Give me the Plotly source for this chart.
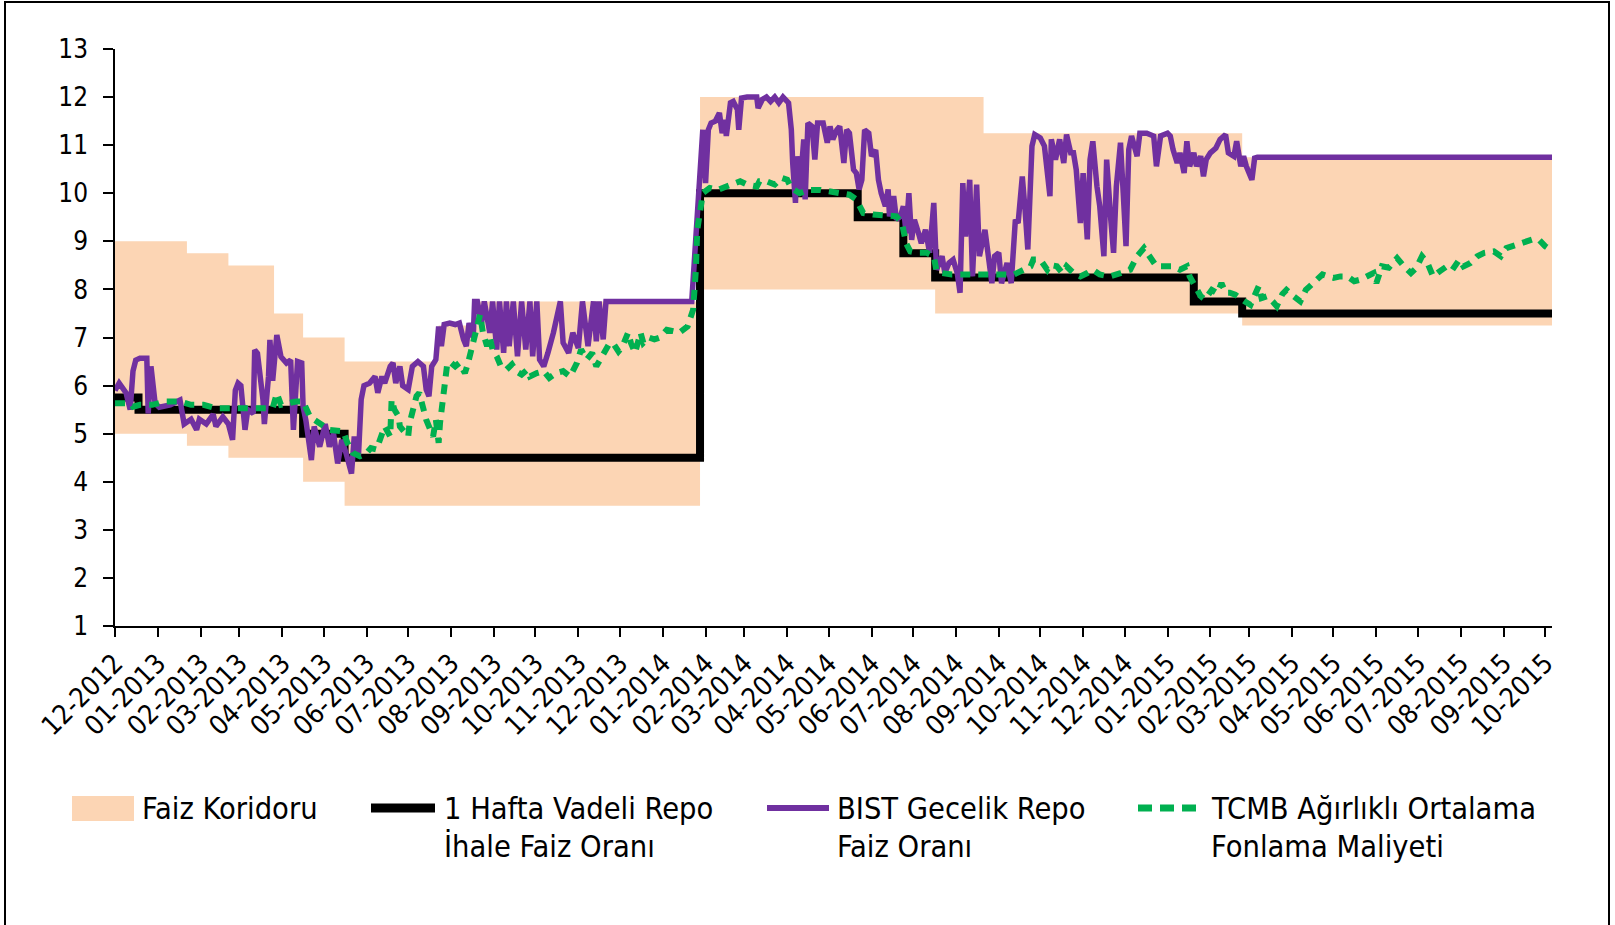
import plotly.graph_objects as go

# ---------------- data ----------------
corr_dates = ['2012-12-01', '2013-01-22', '2013-02-21', '2013-03-26', '2013-04-16', '2013-05-16',
              '2013-07-23', '2013-08-20', '2014-01-28', '2014-07-17', '2014-08-21', '2015-02-24',
              '2015-10-06']
corr_upper = [9.0, 8.75, 8.5, 7.5, 7.0, 6.5, 7.25, 7.75, 12.0, 12.0, 11.25, 10.75, 10.75]
corr_lower = [5.0, 4.75, 4.5, 4.5, 4.0, 3.5, 3.5, 3.5, 8.0, 7.5, 7.5, 7.25, 7.25]

repo_dates = ['2012-12-01', '2012-12-18', '2013-04-16', '2013-05-16', '2014-01-28', '2014-05-22',
              '2014-06-24', '2014-07-17', '2015-01-20', '2015-02-24', '2015-10-06']
repo_rate = [5.75, 5.5, 5.0, 4.5, 10.0, 9.5, 8.75, 8.25, 7.75, 7.5, 7.5]

bist_dates = [
    '2012-12-01', '2012-12-04', '2012-12-09', '2012-12-12', '2012-12-14', '2012-12-16', '2012-12-19',
    '2012-12-24', '2012-12-25', '2012-12-27', '2012-12-30', '2013-01-02', '2013-01-10', '2013-01-17',
    '2013-01-20', '2013-01-25', '2013-01-29', '2013-01-31', '2013-02-05', '2013-02-10', '2013-02-12',
    '2013-02-17', '2013-02-21', '2013-02-24', '2013-02-26', '2013-02-28', '2013-03-02', '2013-03-05',
    '2013-03-07', '2013-03-11', '2013-03-12', '2013-03-14', '2013-03-18', '2013-03-19', '2013-03-22',
    '2013-03-23', '2013-03-25', '2013-03-28', '2013-03-31', '2013-04-04', '2013-04-07', '2013-04-09',
    '2013-04-12', '2013-04-15', '2013-04-16', '2013-04-18', '2013-04-22', '2013-04-24', '2013-04-28',
    '2013-05-02', '2013-05-05', '2013-05-08', '2013-05-11', '2013-05-14', '2013-05-17', '2013-05-21',
    '2013-05-23', '2013-05-26', '2013-05-28', '2013-05-30', '2013-06-03', '2013-06-07', '2013-06-09',
    '2013-06-12', '2013-06-14', '2013-06-18', '2013-06-20', '2013-06-22', '2013-06-25', '2013-06-27',
    '2013-07-01', '2013-07-04', '2013-07-08', '2013-07-12', '2013-07-14', '2013-07-16', '2013-07-18',
    '2013-07-21', '2013-07-23', '2013-07-25', '2013-07-27', '2013-07-31', '2013-08-04', '2013-08-07',
    '2013-08-10', '2013-08-12', '2013-08-14', '2013-08-17', '2013-08-18', '2013-08-20', '2013-08-23',
    '2013-08-25', '2013-08-29', '2013-08-31', '2013-09-03', '2013-09-05', '2013-09-08', '2013-09-10',
    '2013-09-12', '2013-09-15', '2013-09-18', '2013-09-21', '2013-09-24', '2013-09-27', '2013-09-29',
    '2013-10-02', '2013-10-04', '2013-10-07', '2013-10-10', '2013-10-14', '2013-10-19', '2013-10-21',
    '2013-10-25', '2013-10-28', '2013-11-01', '2013-11-04', '2013-11-08', '2013-11-12', '2013-11-14',
    '2013-11-16', '2013-11-19', '2013-11-21', '2014-01-22', '2014-01-23', '2014-01-25', '2014-01-28',
    '2014-01-30', '2014-02-01', '2014-02-03', '2014-02-05', '2014-02-08', '2014-02-11', '2014-02-13',
    '2014-02-15', '2014-02-16', '2014-02-19', '2014-02-21', '2014-02-24', '2014-02-25', '2014-02-27',
    '2014-03-03', '2014-03-10', '2014-03-11', '2014-03-14', '2014-03-17', '2014-03-20', '2014-03-23',
    '2014-03-26', '2014-03-29', '2014-04-02', '2014-04-04', '2014-04-05', '2014-04-07', '2014-04-08',
    '2014-04-10', '2014-04-13', '2014-04-14', '2014-04-16', '2014-04-19', '2014-04-21', '2014-04-23',
    '2014-04-27', '2014-04-30', '2014-05-02', '2014-05-04', '2014-05-07', '2014-05-09', '2014-05-12',
    '2014-05-14', '2014-05-16', '2014-05-19', '2014-05-21', '2014-05-23', '2014-05-25', '2014-05-27',
    '2014-05-30', '2014-06-01', '2014-06-04', '2014-06-06', '2014-06-08', '2014-06-11', '2014-06-13',
    '2014-06-14', '2014-06-17', '2014-06-19', '2014-06-22', '2014-06-24', '2014-06-26', '2014-06-28',
    '2014-06-30', '2014-07-02', '2014-07-05', '2014-07-07', '2014-07-10', '2014-07-13', '2014-07-16',
    '2014-07-18', '2014-07-22', '2014-07-24', '2014-07-27', '2014-07-30', '2014-08-02', '2014-08-04',
    '2014-08-06', '2014-08-08', '2014-08-11', '2014-08-13', '2014-08-16', '2014-08-18', '2014-08-22',
    '2014-08-24', '2014-08-27', '2014-08-29', '2014-09-01', '2014-09-03', '2014-09-07', '2014-09-10',
    '2014-09-13', '2014-09-15', '2014-09-18', '2014-09-20', '2014-09-22', '2014-09-25', '2014-09-27',
    '2014-10-01', '2014-10-04', '2014-10-08', '2014-10-09', '2014-10-12', '2014-10-15', '2014-10-18',
    '2014-10-20', '2014-10-23', '2014-10-25', '2014-10-27', '2014-10-30', '2014-11-01', '2014-11-04',
    '2014-11-06', '2014-11-08', '2014-11-11', '2014-11-13', '2014-11-16', '2014-11-18', '2014-11-21',
    '2014-11-23', '2014-11-25', '2014-11-28', '2014-11-30', '2014-12-02', '2014-12-04', '2014-12-06',
    '2014-12-10', '2014-12-12', '2014-12-17', '2014-12-22', '2014-12-24', '2014-12-27', '2015-01-01',
    '2015-01-03', '2015-01-05', '2015-01-08', '2015-01-10', '2015-01-13', '2015-01-15', '2015-01-17',
    '2015-01-20', '2015-01-22', '2015-01-25', '2015-01-27', '2015-01-29', '2015-02-01', '2015-02-05',
    '2015-02-08', '2015-02-12', '2015-02-14', '2015-02-18', '2015-02-20', '2015-02-23', '2015-02-25',
    '2015-02-27', '2015-03-03', '2015-03-05', '2015-03-07', '2015-10-06']
bist_rate = [
    5.9, 6.05, 5.85, 5.5, 6.3, 6.53, 6.57,
    6.57, 5.42, 6.4, 5.63, 5.55, 5.6, 5.7,
    5.2, 5.3, 5.08, 5.3, 5.2, 5.4, 5.15,
    5.35, 5.2, 4.87, 5.9, 6.05, 6.0, 5.08,
    5.5, 5.42, 6.74, 6.67, 5.7, 5.2, 6.19,
    6.95, 6.1, 7.05, 6.6, 6.47, 6.53, 5.08,
    6.5, 6.47, 5.56, 5.28, 4.45, 5.15, 4.73,
    5.2, 4.73, 5.0, 4.38, 4.87, 4.6, 4.17,
    4.94, 4.53, 5.71, 6.0, 6.05, 6.19, 5.85,
    6.19, 6.05, 6.4, 6.47, 6.05, 6.4, 6.0,
    5.92, 6.4, 6.5, 6.4, 5.92, 5.78, 6.4,
    6.54, 7.23, 6.82, 7.27, 7.3, 7.27, 7.3,
    6.96, 6.82, 7.3, 7.0, 7.75, 7.75, 7.3,
    7.75, 7.1, 7.75, 6.75, 7.75, 6.68, 7.75,
    6.82, 7.75, 6.61, 7.75, 6.75, 7.75, 6.61,
    7.75, 6.54, 6.4, 6.68, 7.1, 7.75, 6.89,
    6.68, 7.1, 6.78, 7.75, 6.82, 7.75, 6.92,
    7.75, 6.96, 7.75, 7.75, 8.2, 9.45, 10.63,
    11.32, 10.21, 11.32, 11.46, 11.5, 11.67, 11.25,
    11.53, 11.19, 11.88, 11.91, 11.74, 11.32, 11.98,
    12.0, 12.0, 11.77, 11.95, 12.0, 11.91, 12.0,
    11.88, 12.0, 11.88, 11.32, 10.63, 9.8, 10.77,
    10.0, 11.12, 9.87, 11.46, 11.39, 10.7, 11.46,
    11.46, 11.05, 11.39, 11.12, 11.32, 11.39, 10.63,
    11.32, 11.25, 10.49, 10.42, 10.08, 10.28, 11.32,
    11.25, 10.77, 10.9, 10.28, 10.0, 9.73, 10.08,
    9.52, 9.94, 9.45, 9.52, 9.73, 9.17, 10.0,
    9.03, 9.45, 9.17, 8.96, 9.24, 8.76, 9.8,
    8.41, 8.69, 8.34, 8.55, 8.62, 8.34, 7.93,
    10.21, 9.1, 10.28, 8.27, 10.18, 8.69, 9.24,
    8.69, 8.13, 8.69, 8.76, 8.13, 8.55, 8.13,
    9.45, 9.38, 10.35, 9.66, 8.83, 10.98, 11.22,
    11.15, 10.98, 9.94, 11.12, 10.7, 11.12, 10.63,
    11.22, 10.84, 10.84, 10.49, 9.38, 10.42, 9.04,
    10.7, 11.08, 10.14, 9.73, 8.69, 10.7, 9.45,
    8.76, 10.14, 11.05, 10.0, 8.9, 10.91, 11.19,
    10.77, 11.25, 11.25, 11.19, 10.56, 11.19, 11.25,
    11.19, 10.91, 10.63, 10.84, 10.42, 11.08, 10.56,
    10.84, 10.56, 10.77, 10.35, 10.7, 10.84, 10.94,
    11.12, 11.22, 10.84, 10.77, 11.08, 10.56, 10.77,
    10.56, 10.28, 10.73, 10.75, 10.75]

tcmb_dates = [
    '2012-12-01', '2012-12-12', '2012-12-14', '2012-12-19', '2012-12-28', '2013-01-07', '2013-01-17',
    '2013-01-25', '2013-02-03', '2013-02-12', '2013-02-24', '2013-03-06', '2013-03-18', '2013-03-25',
    '2013-03-28', '2013-03-31', '2013-04-11', '2013-04-16', '2013-04-21', '2013-04-26', '2013-05-05',
    '2013-05-15', '2013-05-18', '2013-05-22', '2013-05-27', '2013-06-01', '2013-06-04', '2013-06-08',
    '2013-06-12', '2013-06-14', '2013-06-18', '2013-06-19', '2013-06-21', '2013-06-24', '2013-06-25',
    '2013-06-29', '2013-07-01', '2013-07-02', '2013-07-05', '2013-07-07', '2013-07-09', '2013-07-11',
    '2013-07-14', '2013-07-17', '2013-07-19', '2013-07-21', '2013-07-23', '2013-07-24', '2013-07-25',
    '2013-07-27', '2013-07-29', '2013-07-31', '2013-08-04', '2013-08-07', '2013-08-11', '2013-08-13',
    '2013-08-16', '2013-08-18', '2013-08-21', '2013-08-22', '2013-08-24', '2013-08-27', '2013-08-29',
    '2013-08-31', '2013-09-03', '2013-09-06', '2013-09-10', '2013-09-14', '2013-09-17', '2013-09-21',
    '2013-09-25', '2013-09-27', '2013-10-02', '2013-10-07', '2013-10-11', '2013-10-16', '2013-10-21',
    '2013-10-26', '2013-10-31', '2013-11-03', '2013-11-07', '2013-11-11', '2013-11-14', '2013-11-17',
    '2013-11-19', '2013-11-23', '2013-11-26', '2013-11-30', '2013-12-03', '2013-12-07', '2013-12-09',
    '2013-12-12', '2013-12-16', '2013-12-18', '2013-12-22', '2013-12-26', '2013-12-30', '2014-01-04',
    '2014-01-09', '2014-01-13', '2014-01-19', '2014-01-23', '2014-01-25', '2014-01-26', '2014-01-29',
    '2014-01-30', '2014-02-04', '2014-02-10', '2014-02-16', '2014-02-20', '2014-02-26', '2014-03-03',
    '2014-03-10', '2014-03-12', '2014-03-17', '2014-03-23', '2014-03-28', '2014-04-01', '2014-04-04',
    '2014-04-10', '2014-04-17', '2014-04-25', '2014-05-02', '2014-05-09', '2014-05-16', '2014-05-21',
    '2014-05-24', '2014-05-26', '2014-06-02', '2014-06-12', '2014-06-19', '2014-06-23', '2014-06-25',
    '2014-06-26', '2014-06-29', '2014-07-04', '2014-07-11', '2014-07-16', '2014-07-18', '2014-07-22',
    '2014-07-29', '2014-08-05', '2014-08-13', '2014-08-23', '2014-09-02', '2014-09-12', '2014-09-24',
    '2014-09-26', '2014-10-01', '2014-10-06', '2014-10-08', '2014-10-13', '2014-10-17', '2014-10-20',
    '2014-10-25', '2014-10-30', '2014-11-04', '2014-11-08', '2014-11-13', '2014-11-20', '2014-11-28',
    '2014-12-05', '2014-12-10', '2014-12-15', '2014-12-19', '2014-12-24', '2014-12-29', '2015-01-05',
    '2015-01-10', '2015-01-15', '2015-01-17', '2015-01-21', '2015-01-25', '2015-01-28', '2015-02-02',
    '2015-02-06', '2015-02-09', '2015-02-12', '2015-02-15', '2015-02-19', '2015-02-23', '2015-02-26',
    '2015-03-02', '2015-03-05', '2015-03-08', '2015-03-10', '2015-03-14', '2015-03-18', '2015-03-21',
    '2015-03-25', '2015-03-28', '2015-04-02', '2015-04-07', '2015-04-11', '2015-04-14', '2015-04-18',
    '2015-04-23', '2015-04-27', '2015-05-01', '2015-05-06', '2015-05-11', '2015-05-16', '2015-05-20',
    '2015-05-25', '2015-05-30', '2015-06-01', '2015-06-05', '2015-06-10', '2015-06-16', '2015-06-21',
    '2015-06-26', '2015-06-30', '2015-07-04', '2015-07-08', '2015-07-12', '2015-07-17', '2015-07-22',
    '2015-07-26', '2015-07-31', '2015-08-03', '2015-08-08', '2015-08-13', '2015-08-18', '2015-08-25',
    '2015-08-30', '2015-09-03', '2015-09-11', '2015-09-17', '2015-09-23', '2015-09-27', '2015-10-01',
    '2015-10-06']
tcmb_rate = [
    5.63, 5.63, 5.56, 5.6, 5.6, 5.67, 5.67,
    5.6, 5.6, 5.53, 5.53, 5.53, 5.53, 5.53,
    5.84, 5.6, 5.67, 5.67, 5.35, 5.25, 5.08,
    5.05, 4.81, 4.6, 4.53, 4.6, 4.7, 4.67,
    5.01, 5.15, 4.94, 5.71, 5.5, 5.36, 5.15,
    5.01, 4.94, 5.22, 5.5, 5.78, 5.85, 5.57,
    5.29, 5.08, 4.94, 5.29, 4.81, 5.22, 5.5,
    5.98, 6.4, 6.5, 6.4, 6.47, 6.26, 6.44,
    6.75, 6.96, 7.3, 7.48, 7.1, 6.82, 7.0,
    6.75, 6.61, 6.4, 6.33, 6.44, 6.3, 6.23,
    6.33, 6.19, 6.26, 6.3, 6.16, 6.26, 6.3,
    6.19, 6.47, 6.75, 6.54, 6.68, 6.4, 6.54,
    6.68, 6.85, 6.89, 6.71, 6.82, 7.1, 6.89,
    6.68, 7.1, 6.89, 7.0, 6.96, 7.0, 7.16,
    7.13, 7.1, 7.23, 7.58, 8.41, 9.24, 9.8,
    10.0, 10.11, 10.07, 10.14, 10.18, 10.25, 10.18,
    10.14, 10.25, 10.25, 10.18, 10.32, 10.28, 10.11,
    10.0, 10.07, 10.07, 10.04, 10.0, 9.97, 9.87,
    9.73, 9.59, 9.56, 9.52, 9.52, 9.38, 9.17,
    8.96, 8.79, 8.76, 8.76, 8.69, 8.38, 8.34,
    8.31, 8.31, 8.31, 8.31, 8.31, 8.31, 8.48,
    8.62, 8.62, 8.41, 8.51, 8.48, 8.34, 8.48,
    8.34, 8.27, 8.34, 8.41, 8.31, 8.27, 8.34,
    8.41, 8.69, 8.86, 8.69, 8.48, 8.48, 8.48,
    8.41, 8.48, 8.27, 8.07, 7.86, 7.79, 7.99,
    7.92, 8.13, 7.93, 7.93, 7.89, 7.79, 7.75,
    7.68, 7.86, 8.07, 7.82, 7.86, 7.75, 7.65,
    7.9, 7.99, 7.86, 7.75, 7.99, 8.07, 8.2,
    8.31, 8.27, 8.24, 8.27, 8.27, 8.17, 8.2,
    8.27, 8.34, 8.13, 8.48, 8.45, 8.65, 8.48,
    8.34, 8.45, 8.69, 8.55, 8.27, 8.38, 8.48,
    8.41, 8.62, 8.48, 8.55, 8.69, 8.76, 8.79,
    8.69, 8.86, 8.93, 8.98, 9.05, 9.02, 8.9,
    8.8]

legend_first = ['Faiz Koridoru', '1 Hafta Vadeli Repo', 'BIST Gecelik Repo', 'TCMB Ağırlıklı Ortalama']
legend_second = ['', 'İhale Faiz Oranı', 'Faiz Oranı', 'Fonlama Maliyeti']
y_ticks = list(range(1, 14))

# ---------------- styling ----------------
FONT = 'DejaVu Sans Condensed, Liberation Sans Narrow, DejaVu Sans, sans-serif'
PEACH = 'rgb(252,213,180)'
PURPLE = 'rgb(112,48,160)'
GREEN = 'rgb(0,176,80)'

fig = go.Figure()
fig.add_trace(go.Scatter(x=corr_dates, y=corr_lower, mode='lines', line=dict(width=0, shape='hv'),
                         showlegend=False, hoverinfo='skip'))
fig.add_trace(go.Scatter(x=corr_dates, y=corr_upper, mode='lines', line=dict(width=0, shape='hv'),
                         fill='tonexty', fillcolor=PEACH, name=legend_first[0], showlegend=False))
fig.add_trace(go.Scatter(x=repo_dates, y=repo_rate, mode='lines',
                         line=dict(color='black', width=8, shape='hv'),
                         name=legend_first[1], showlegend=False))
fig.add_trace(go.Scatter(x=bist_dates, y=bist_rate, mode='lines',
                         line=dict(color=PURPLE, width=5.5),
                         name=legend_first[2], showlegend=False))
fig.add_trace(go.Scatter(x=tcmb_dates, y=tcmb_rate, mode='lines',
                         line=dict(color=GREEN, width=6, dash='10px,8px'),
                         name=legend_first[3], showlegend=False))

# ---------------- manual legend (paper coordinates) ----------------
L, T, W, H = 115, 49, 1437, 577  # plot area in px
def px(x):
    return (x - L) / W
def py(y):
    return (T + H - y) / H

row1, row2 = 808, 847
text_left = [140, 442, 835, 1209]
shapes = [
    # outer frame
    dict(type='rect', xref='paper', yref='paper', x0=px(5), x1=px(1609), y0=py(935), y1=py(2),
         line=dict(color='black', width=2), fillcolor='rgba(0,0,0,0)', layer='below'),
    # legend symbols
    dict(type='rect', xref='paper', yref='paper', x0=px(72), x1=px(134), y0=py(821), y1=py(796),
         line=dict(width=0), fillcolor=PEACH),
    dict(type='line', xref='paper', yref='paper', x0=px(371), x1=px(435), y0=py(row1), y1=py(row1),
         line=dict(color='black', width=9)),
    dict(type='line', xref='paper', yref='paper', x0=px(767), x1=px(829), y0=py(row1), y1=py(row1),
         line=dict(color=PURPLE, width=6)),
    dict(type='line', xref='paper', yref='paper', x0=px(1138), x1=px(1203), y0=py(row1), y1=py(row1),
         line=dict(color=GREEN, width=7, dash='14px,8px')),
]
annotations = []
for i in range(4):
    annotations.append(dict(xref='paper', yref='paper', x=px(text_left[i]), y=py(row1),
                            xanchor='left', yanchor='middle', text=legend_first[i], showarrow=False,
                            font=dict(family=FONT, size=30.5, color='black')))
    if legend_second[i]:
        annotations.append(dict(xref='paper', yref='paper', x=px(text_left[i]), y=py(row2),
                                xanchor='left', yanchor='middle', text=legend_second[i], showarrow=False,
                                font=dict(family=FONT, size=30.5, color='black')))

fig.update_layout(
    width=1615, height=925,
    margin=dict(l=L, r=1615 - L - W, t=T, b=925 - T - H),
    paper_bgcolor='white', plot_bgcolor='white',
    font=dict(family=FONT, color='black'),
    showlegend=False,
    xaxis=dict(type='date', range=['2012-12-01', '2015-10-06'], tick0='2012-12-01', dtick='M1',
               tickformat='%m-%Y', tickangle=-45, ticks='outside', ticklen=9, tickwidth=1.5,
               tickcolor='black', showline=True, linecolor='black', linewidth=1.5,
               showgrid=False, zeroline=False, tickfont=dict(family=FONT, size=27, color='black')),
    yaxis=dict(range=[1, 13], tickvals=y_ticks, ticks='outside', ticklen=10, tickwidth=1.5,
               tickcolor='black', showline=True, linecolor='black', linewidth=1.5,
               ticklabelstandoff=10,
               showgrid=False, zeroline=False, tickfont=dict(family=FONT, size=26, color='black')),
    shapes=shapes,
    annotations=annotations,
)

fig.write_html('out.html', config={'displayModeBar': False},
               post_script="document.body.style.margin='0';")
